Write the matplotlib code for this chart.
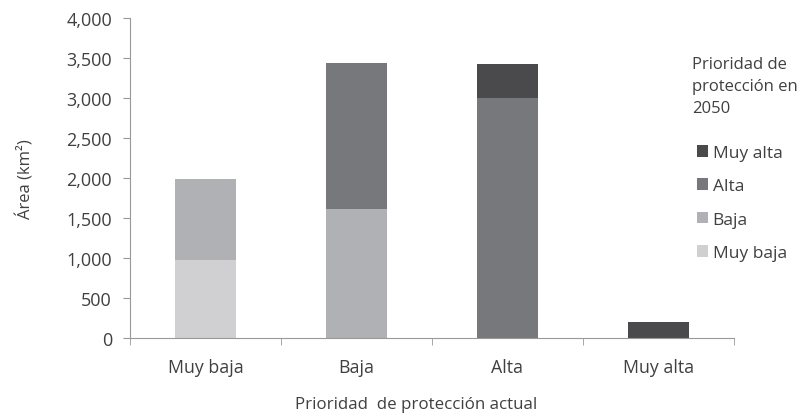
import matplotlib.pyplot as plt
import numpy as np
from matplotlib.ticker import FuncFormatter

# data (km2)
categories = ['Muy baja', 'Baja', 'Alta', 'Muy alta']
muy_baja = [977, 0, 0, 0]
baja = [1012, 1615, 0, 0]
alta = [0, 1825, 2996, 0]
muy_alta = [0, 0, 426, 207]

series_names = ['Muy baja', 'Baja', 'Alta', 'Muy alta']
colors = ['#d0d0d2', '#b0b1b5', '#77787c', '#4a4a4d']

plt.rcParams['font.family'] = ['Open Sans', 'DejaVu Sans']
txt = '#404040'

fig = plt.figure(figsize=(8.04, 4.14), dpi=100)
ax = fig.add_axes([130/804, 1-339.3/414, (734-130)/804, (339.3-19)/414])

x = np.arange(len(categories))
bottom = np.zeros(len(categories))
bars = []
for vals, name, c in zip([muy_baja, baja, alta, muy_alta], series_names, colors):
    b = ax.bar(x, vals, 0.4, bottom=bottom, color=c, label=name, zorder=2)
    bars.append(b)
    bottom += np.array(vals)

ax.set_xlim(-0.5, 3.5)
ax.set_ylim(0, 4000)
ax.set_yticks(np.arange(0, 4001, 500))
ax.yaxis.set_major_formatter(FuncFormatter(lambda v, p: f'{int(v):,}'))
ax.set_xticks(x)
ax.set_xticklabels(categories)
ax.set_xticks(np.arange(-0.5, 3.6, 1), minor=True)
ax.tick_params(axis='x', which='major', length=0, pad=14, labelsize=12.8, labelcolor=txt)
ax.tick_params(axis='x', which='minor', length=5, color='#999999')
ax.tick_params(axis='y', length=5, color='#999999', labelsize=13, labelcolor=txt, pad=8)

for s in ['top', 'right']:
    ax.spines[s].set_visible(False)
for s in ['left', 'bottom']:
    ax.spines[s].set_color('#999999')

ax.set_ylabel('Área (km²)', fontsize=12, color=txt, va='center')
ax.yaxis.set_label_coords(-105/604, 0.5)
ax.set_xlabel('Prioridad  de protección actual', fontsize=12.2, color=txt, va='center')
ax.xaxis.set_label_coords((416-130)/604, (339.3-405)/320.3)

# legend title as separate text (Excel style spacing)
fig.text(692/804, 1-57/414, 'Prioridad de\nprotección en\n2050', ha='left', va='top',
         fontsize=12, color=txt, linespacing=1.5)

handles = [bars[3], bars[2], bars[1], bars[0]]
labels = ['Muy alta', 'Alta', 'Baja', 'Muy baja']
leg = fig.legend(handles, labels, loc='upper left', bbox_to_anchor=(697/804, 1-146/414),
                 frameon=False, fontsize=12.5, handlelength=0.65, handleheight=0.65,
                 handletextpad=0.25, labelspacing=1.0, borderpad=0, borderaxespad=0)
plt.setp(leg.get_texts(), color=txt)

fig.savefig('out.png', dpi=100)
